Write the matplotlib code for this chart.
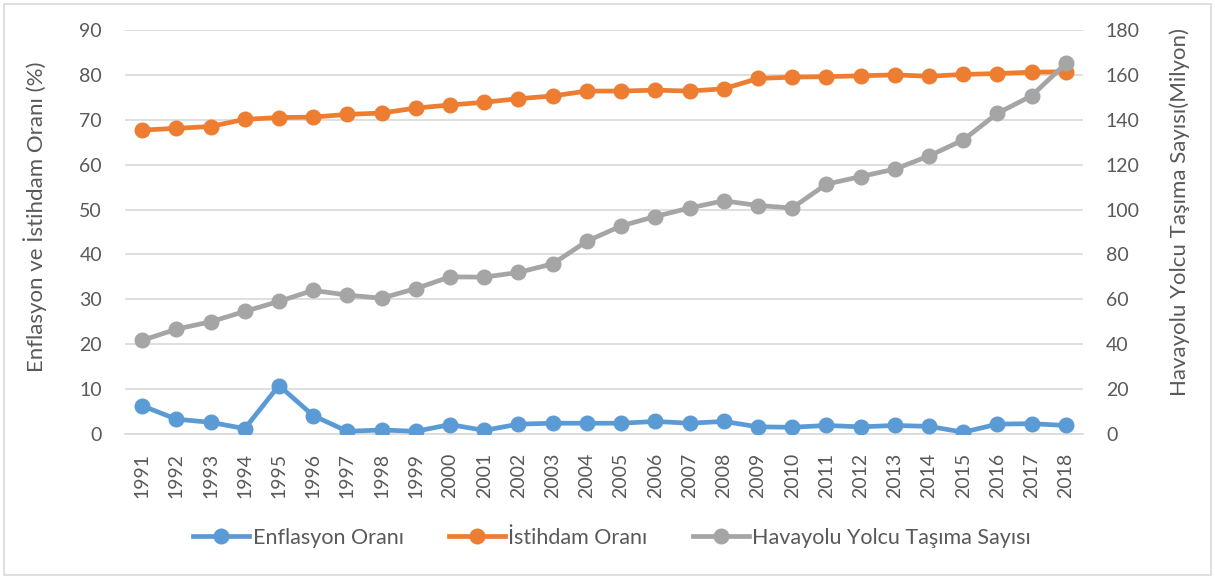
import matplotlib
matplotlib.use("Agg")
import matplotlib.pyplot as plt
from matplotlib.patches import Rectangle

plt.rcParams['font.family'] = ['Lato', 'DejaVu Sans']

years = [str(y) for y in range(1991, 2019)]
enflasyon = [6.3, 3.3, 2.6, 1.2, 10.8, 4.1, 0.6, 0.9, 0.6, 2.1, 0.8, 2.2, 2.4, 2.4,
             2.4, 2.8, 2.4, 2.8, 1.6, 1.5, 1.9, 1.6, 1.9, 1.7, 0.4, 2.2, 2.3, 1.9]
istihdam = [67.7, 68.1, 68.5, 70.1, 70.5, 70.6, 71.2, 71.5, 72.6, 73.3, 73.9, 74.7,
            75.3, 76.4, 76.4, 76.6, 76.4, 76.9, 79.2, 79.5, 79.6, 79.8, 80.0, 79.7,
            80.1, 80.3, 80.6, 80.7]
havayolu = [41.7, 46.7, 50.0, 54.6, 59.1, 64.0, 61.9, 60.5, 64.8, 70.0, 69.9, 72.0,
            75.8, 85.9, 92.7, 96.9, 100.7, 103.9, 101.8, 100.7, 111.3, 114.7, 118.0,
            123.9, 131.0, 142.9, 150.7, 165.1]

left_ticks = list(range(0, 91, 10))
right_ticks = list(range(0, 181, 20))

c_blue = '#5B9BD5'
c_orange = '#ED7D31'
c_grey = '#A5A5A5'
txt = '#595959'

fig = plt.figure(figsize=(12.15, 5.78), dpi=100)
ax = fig.add_axes([125/1215, 1-434/578, (1083-125)/1215, (434-30)/578])
ax2 = ax.twinx()

x = list(range(len(years)))
lw = 3.4
ms = 10.5
l1, = ax.plot(x, enflasyon, color=c_blue, lw=lw, marker='o', ms=ms, label='Enflasyon Oranı', zorder=3)
l2, = ax.plot(x, istihdam, color=c_orange, lw=lw, marker='o', ms=ms, label='İstihdam Oranı', zorder=3)
l3, = ax2.plot(x, havayolu, color=c_grey, lw=lw, marker='o', ms=ms, label='Havayolu Yolcu Taşıma Sayısı', zorder=3)

ax.set_xlim(-0.5, len(years) - 0.5)
ax.set_ylim(0, 90)
ax2.set_ylim(0, 180)
ax.set_yticks(left_ticks)
ax2.set_yticks(right_ticks)
ax.set_xticks(x)
ax.set_xticklabels(years, rotation=90)

ax.grid(axis='y', color='#D9D9D9', lw=1.2, zorder=0)
ax.set_axisbelow(True)
for a in (ax, ax2):
    for s in a.spines.values():
        s.set_visible(False)
    a.tick_params(length=0, colors=txt, labelsize=14)
ax.spines['bottom'].set_visible(True)
ax.spines['bottom'].set_color('#D9D9D9')
ax.spines['bottom'].set_linewidth(1.2)
ax.tick_params(axis='y', pad=16.5)
ax.tick_params(axis='x', pad=13.5)
ax2.tick_params(axis='y', pad=16.5)

ax.set_ylabel('Enflasyon ve İstihdam Oranı (%)', color=txt, fontsize=16)
ax2.set_ylabel('Havayolu Yolcu Taşıma Sayısı(Milyon)', color=txt, fontsize=16)
ax.yaxis.set_label_coords((47-125)/958, (434-217)/404)
ax2.yaxis.set_label_coords((1169-125)/958, (434-212)/404)

fig.legend(handles=[l1, l2, l3], loc='center', bbox_to_anchor=(612/1215, 1-538/578),
           ncol=3, frameon=False, fontsize=15.5, handlelength=2.6, columnspacing=2.1,
           handletextpad=0.15, labelcolor=txt)

fig.patches.append(Rectangle((4/1215, 3/578), 1207/1215, 571/578, transform=fig.transFigure,
                             fill=False, edgecolor='#D9D9D9', lw=1.2))

fig.savefig('out.png', dpi=100, facecolor='white')
